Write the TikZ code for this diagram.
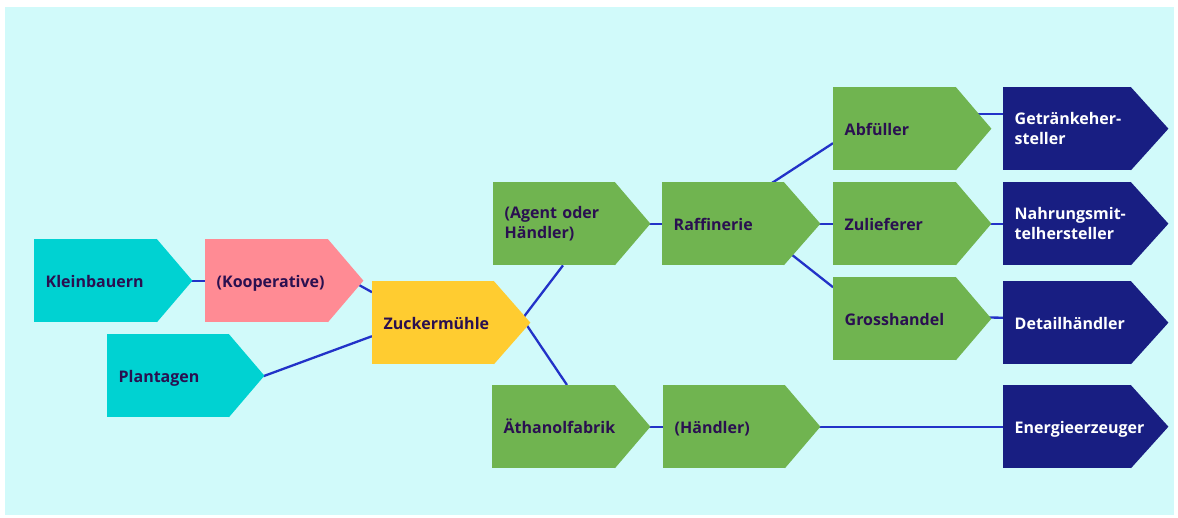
\documentclass[tikz,border=0pt]{standalone}
\usepackage{fontspec}
\setmainfont{Open Sans}
\usetikzlibrary{calc}
\definecolor{bgc}{RGB}{209,250,250}
\definecolor{cyanb}{RGB}{0,210,210}
\definecolor{pinkb}{RGB}{255,139,148}
\definecolor{yellowb}{RGB}{255,204,48}
\definecolor{greenb}{RGB}{112,180,80}
\definecolor{navyb}{RGB}{24,30,130}
\definecolor{linec}{RGB}{34,50,200}
\definecolor{txtc}{RGB}{42,16,80}
\pgfdeclarelayer{back}
\pgfdeclarelayer{lines}
\pgfdeclarelayer{tips}
\pgfsetlayers{back,lines,tips,main}
\newcommand\tipfor[3]{\fill[#3] ([xshift=-0.6pt]#1.north east) -- ($(#1.east)+(#2,0)$) -- ([xshift=-0.6pt]#1.south east) -- cycle;}
\hyphenpenalty=10000
\exhyphenpenalty=10000
\begin{document}
\begin{tikzpicture}[x=1pt,y=-1pt,
  box/.style={rectangle, minimum height=83pt, inner xsep=11.5pt, inner ysep=0pt,
    text width=100pt, anchor=north west, align=left, text=txtc,
    font=\fontsize{16}{19.5}\selectfont\bfseries},
  one/.style={text height=15pt, text depth=2pt},
  nbox/.style={box, text width=105pt, fill=navyb, text=white},
  conn/.style={draw=linec, line width=2.3pt}]
\useasboundingbox (0,0) rectangle (1178,518);
\begin{pgfonlayer}{back}
\fill[bgc] (5,7) rectangle (1174,515);
\end{pgfonlayer}

\node[box, one, fill=cyanb] (klein) at (34,239) {Kleinbauern};
\node[box, one, fill=pinkb] (koop) at (205,239) {(Kooperative)};
\node[box, one, fill=cyanb, text width=99pt] (plant) at (107,334) {Plantagen};
\node[box, one, fill=yellowb, text width=99pt] (zuck) at (372,281) {Zuckermühle};
\node[box, fill=greenb, text width=99pt] (agent) at (493,182) {(Agent oder\\Händler)};
\node[box, one, fill=greenb, text width=99pt] (raff) at (662,182) {Raffinerie};
\node[box, one, fill=greenb] (abf) at (833,87) {Abfüller};
\node[box, one, fill=greenb] (zul) at (833,182) {Zulieferer};
\node[box, one, fill=greenb] (gross) at (833,277) {Grosshandel};
\node[box, one, fill=greenb] (eth) at (492,385) {Äthanolfabrik};
\node[box, one, fill=greenb, text width=99pt] (hand) at (663,385) {(Händler)};
\node[nbox] (getr) at (1003,87) {Getränkeher-\\steller};
\node[nbox] (nahr) at (1003,182) {Nahrungsmit-\\telhersteller};
\node[nbox, one] (detail) at (1003,281) {Detailhändler};
\node[nbox, one] (energ) at (1003,385) {Energieerzeuger};

\begin{pgfonlayer}{tips}
\tipfor{klein}{35}{cyanb}
\tipfor{koop}{35}{pinkb}
\tipfor{plant}{35}{cyanb}
\tipfor{zuck}{36}{yellowb}
\tipfor{agent}{35}{greenb}
\tipfor{raff}{36}{greenb}
\tipfor{abf}{35}{greenb}
\tipfor{zul}{35}{greenb}
\tipfor{gross}{35}{greenb}
\tipfor{eth}{35}{greenb}
\tipfor{hand}{35}{greenb}
\tipfor{getr}{37}{navyb}
\tipfor{nahr}{37}{navyb}
\tipfor{detail}{37}{navyb}
\tipfor{energ}{37}{navyb}
\end{pgfonlayer}

\begin{pgfonlayer}{lines}
\draw[conn] (klein.east) -- (koop.west);
\draw[conn] ($(koop.east)+(27,2.3)$) -- ($(zuck.west)+(0,-30.5)$);
\draw[conn] ($(plant.east)+(34,0.5)$) -- ($(zuck.west)+(0,13.5)$);
\draw[conn] ($(zuck.east)+(28,-4)$) -- ($(agent.south west)+(70,0)$);
\draw[conn] ($(zuck.east)+(28,-4)$) -- ($(eth.north west)+(75,0)$);
\draw[conn] (agent.east) -- (raff.west);
\draw[conn] ($(raff.north east)+(-24,8.5)$) -- ($(abf.west)+(0,14.5)$);
\draw[conn] (raff.east) -- (zul.west);
\draw[conn] ($(raff.east)+(-4,22)$) -- ($(gross.west)+(0,-31.5)$);
\draw[conn] ($(abf.east)+(14,-14.5)$) -- ($(getr.west)+(0,-14.5)$);
\draw[conn] (zul.east) -- (nahr.west);
\draw[conn] ($(gross.east)+(0,-1.5)$) -- ($(detail.west)+(0,-5)$);
\draw[conn] (eth.east) -- (hand.west);
\draw[conn] (hand.east) -- (energ.west);
\end{pgfonlayer}
\end{tikzpicture}
\end{document}
